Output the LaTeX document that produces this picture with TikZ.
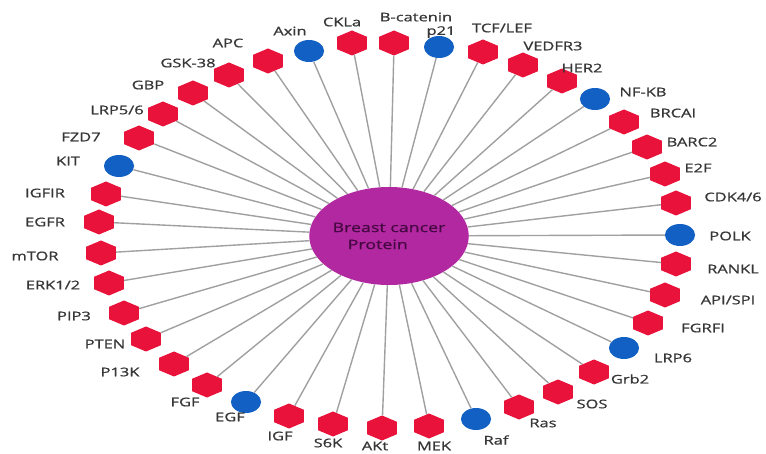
\documentclass[tikz,border=0pt]{standalone}
\usepackage{fontspec}
\setmainfont{Open Sans}
\newfontfamily\lblfont{Open Sans}[FakeBold=0.8]
\usetikzlibrary{shapes.geometric}
\definecolor{hexred}{RGB}{232,18,58}
\definecolor{nodeblue}{RGB}{18,96,196}
\definecolor{hubpurple}{RGB}{178,40,160}
\definecolor{hubtext}{RGB}{70,8,66}
\definecolor{linkgray}{RGB}{160,160,160}
\definecolor{labelgray}{RGB}{55,55,55}
\begin{document}
\begin{tikzpicture}[xscale=1.37, x=0.72993pt, y=-1pt,
  every node/.style={transform shape},
  hexnode/.style={regular polygon, regular polygon sides=6, shape border rotate=30,
    fill=hexred, minimum size=25pt, inner sep=0pt},
  dotnode/.style={circle, fill=nodeblue, minimum size=22pt, inner sep=0pt},
  lbl/.style={text=labelgray, font=\lblfont\fontsize{12}{14}\selectfont, inner sep=0pt},
  link/.style={draw=linkgray, line width=1.4pt},
  hub/.style={ellipse, fill=hubpurple, minimum width=111pt, minimum height=98pt,
    inner sep=0pt, text=hubtext, font=\lblfont\fontsize{13}{17}\selectfont, align=left}]
\useasboundingbox (0,0) rectangle (766,454);
\node[hub] (hub) at (389,236) {Breast cancer\\\hspace*{0.85em}Protein};
\foreach \n/\s/\x/\y/\t/\lx/\ly in {
 axin/dotnode/309/51/Axin/290/31,
 ckla/hexnode/352/43/CKLa/342/22,
 bcat/hexnode/394/43/B-catenin/416/17,
 p21/dotnode/439/47/p21/441/32,
 tcf/hexnode/483/52/{TCF/LEF}/502/28,
 vedfr/hexnode/523/65/VEDFR3/553/46,
 her2/hexnode/562/81/HER2/582/68,
 nfkb/dotnode/595/99/NF-KB/643/92,
 brcai/hexnode/624/122/BRCAI/673/113,
 barc2/hexnode/647/147/BARC2/692/142,
 e2f/hexnode/665/174/E2F/698/168,
 cdk/hexnode/676/203/{CDK4/6}/733/197,
 polk/dotnode/680/235/POLK/730/236,
 rankl/hexnode/676/264/RANKL/733/269,
 api/hexnode/665/295/{API/SPI}/728/300,
 fgrfi/hexnode/648/323/FGRFI/703/328,
 lrp6/dotnode/624/348/LRP6/673/358,
 grb2/hexnode/594/372/Grb2/630/379,
 sos/hexnode/558/392/SOS/592/404,
 ras/hexnode/519/407/Ras/543/423,
 raf/dotnode/476/419/Raf/496/440,
 mek/hexnode/429/426/MEK/434/446,
 akt/hexnode/382/428/AKt/375/446,
 s6k/hexnode/333/424/S6K/328/443,
 igf/hexnode/289/416/IGF/280/436,
 egf/dotnode/246/402/EGF/230/417,
 fgf/hexnode/207/385/FGF/185/402,
 p13k/hexnode/174/364/P13K/120/372,
 pten/hexnode/146/339/PTEN/105/344,
 pip3/hexnode/124/313/PIP3/74/316,
 erk/hexnode/109/283/{ERK1/2}/53/285,
 mtor/hexnode/101/253/mTOR/35/256,
 egfr/hexnode/99/222/EGFR/45/222,
 igfir/hexnode/106/194/IGFIR/45/193,
 kit/dotnode/119/166/KIT/68/161,
 fzd7/hexnode/139/138/FZD7/81/137,
 lrp56/hexnode/163/114/{LRP5/6}/117/110,
 gbp/hexnode/193/93/GBP/148/85,
 gsk/hexnode/229/75/GSK-38/188/63,
 apc/hexnode/268/61/APC/228/43}
{
 \node[\s] (\n) at (\x,\y) {};
 \node[lbl] (\n-l) at (\lx,\ly) {\t};
 \draw[link] (hub) -- (\n);
}
\end{tikzpicture}
\end{document}
